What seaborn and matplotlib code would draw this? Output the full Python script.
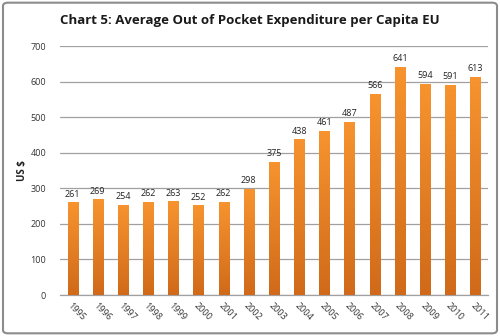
import matplotlib
matplotlib.use("Agg")
import matplotlib.pyplot as plt
import seaborn as sns
import numpy as np
import pandas as pd
from matplotlib.colors import LinearSegmentedColormap
from matplotlib.patches import FancyBboxPatch

years = ["1995", "1996", "1997", "1998", "1999", "2000", "2001", "2002", "2003",
         "2004", "2005", "2006", "2007", "2008", "2009", "2010", "2011"]
values = [261, 269, 254, 262, 263, 252, 262, 298, 375, 438, 461, 487, 566, 641, 594, 591, 613]

df = pd.DataFrame({"year": years, "value": values})

sns.set_theme(style="white")
plt.rcParams['font.family'] = ['Open Sans', 'DejaVu Sans']

fig = plt.figure(figsize=(5, 3.36), dpi=100)
ax = fig.add_axes([0.12, 0.122, 0.856, 0.741])

sns.barplot(data=df, x="year", y="value", color="#F28C28", width=0.4, ax=ax, zorder=3)

ax.set_ylim(0, 700)
ax.set_yticks(range(0, 701, 100))
ax.yaxis.grid(True, color="#a0a0a0", linewidth=0.9, zorder=0)
ax.set_axisbelow(True)
for s in ["top", "right", "left"]:
    ax.spines[s].set_visible(False)
ax.spines["bottom"].set_color("#a0a0a0")
ax.spines["bottom"].set_linewidth(0.9)

ax.tick_params(axis="y", labelsize=6.5, colors="#333333", length=0, pad=10)
ax.tick_params(axis="x", labelsize=6.5, colors="#333333", length=0, pad=4)
for lab in ax.get_xticklabels():
    lab.set_rotation(-45)
    lab.set_ha("left")
    lab.set_va("top")
    lab.set_rotation_mode("anchor")
ax.set_xlabel("")
ax.set_ylabel("US $", fontsize=7, fontweight="bold", color="#222222", labelpad=2)

# gradient fill on bars
cmap = LinearSegmentedColormap.from_list("og", ["#D06A1A", "#F7942F"])
grad = np.linspace(0, 1, 256).reshape(-1, 1)
for patch in ax.patches:
    x0, y0 = patch.get_x(), patch.get_y()
    w, h = patch.get_width(), patch.get_height()
    im = ax.imshow(grad, extent=[x0, x0 + w, y0, y0 + h], origin="lower",
                   cmap=cmap, aspect="auto", zorder=3)
    im.set_clip_path(patch)
    patch.set_facecolor("none")
    patch.set_edgecolor("none")
ax.set_xlim(-0.5, len(years) - 0.5)
ax.set_ylim(0, 700)

for i, v in enumerate(values):
    ax.text(i, v + 10, str(v), ha="center", va="bottom", fontsize=6.5, color="#222222", zorder=4)

fig.text(0.5, 0.938, "Chart 5: Average Out of Pocket Expenditure per Capita EU",
         ha="center", va="center", fontsize=9.5, fontweight="bold", color="#1a1a1a")

border = FancyBboxPatch((0.006, 0.008), 0.988, 0.984, boxstyle="round,pad=0,rounding_size=0.01",
                        transform=fig.transFigure, fill=False, edgecolor="#8c8c8c", linewidth=1.5)
fig.patches.append(border)

fig.savefig("out.png", dpi=100)
